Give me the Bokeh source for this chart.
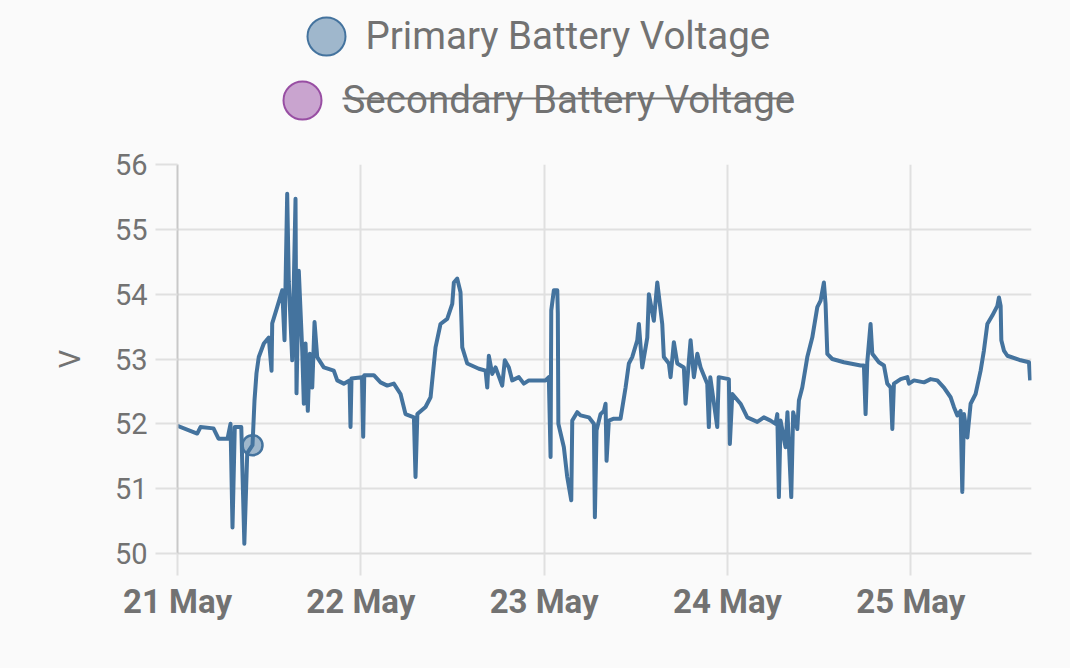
import pandas as pd
from bokeh.plotting import figure
from bokeh.layouts import column
from bokeh.models import Range1d, DaysTicker, DatetimeTickFormatter, FixedTicker, ColumnDataSource
from bokeh.core.properties import value
from bokeh.embed import file_html
from bokeh.resources import INLINE

# ---------------- data ----------------
start_date = "2024-05-21"
series_names = ["Primary Battery Voltage", "Secondary Battery Voltage"]
series_colors = ["#44739e", "#984ea3"]
series_hidden = [False, True]
y_ticks = [50, 51, 52, 53, 54, 55, 56]

# hours after 21 May 00:00
hours = [0.0, 2.58, 3.01, 4.71, 5.37, 6.55, 6.94, 7.2, 7.5, 8.35, 8.75, 9.13, 9.82, 10.08,
         10.34, 10.64, 11.30, 11.95, 12.31, 12.40, 13.05, 13.71, 14.01, 14.36, 14.57, 15.02,
         15.45, 15.58, 15.88, 16.33, 16.54, 16.76, 17.06, 17.32, 17.64, 17.94, 18.29, 19.15,
         20.46, 20.91, 21.77, 22.52, 22.65, 22.78, 24.15, 24.31, 24.45, 25.70, 26.58, 27.46,
         28.32, 29.20, 29.85, 30.95, 31.16, 31.4, 32.47, 33.13, 33.78, 34.43, 35.31, 35.97,
         36.18, 36.62, 37.05, 37.28, 37.93, 39.45, 40.33, 40.55, 40.76, 41.20, 41.64, 42.51,
         42.85, 43.38, 43.82, 44.69, 45.34, 46.00, 48.18, 48.61, 48.84, 48.93, 49.27, 49.72,
         49.79, 49.86, 50.58, 51.02, 51.55, 51.68, 52.33, 52.76, 53.85, 54.51, 54.64, 54.86,
         55.38, 55.82, 56.04, 56.17, 56.47, 57.12, 58.00, 58.66, 59.09, 59.53, 60.19, 60.40,
         60.84, 61.50, 61.71, 62.36, 62.81, 63.46, 63.67, 64.33, 64.55, 64.98, 65.43, 66.29,
         66.51, 66.95, 67.17, 67.60, 68.05, 68.48, 69.35, 69.56, 69.75, 70.66, 70.85, 72.18,
         72.31, 72.63, 73.71, 74.59, 75.90, 76.76, 77.64, 78.29, 78.52, 78.73, 78.95, 79.60,
         79.85, 80.35, 80.6, 81.14, 81.35, 81.79, 82.45, 83.10, 83.76, 84.19, 84.62, 84.84,
         85.07, 85.72, 87.24, 89.43, 89.86, 90.08, 90.30, 90.73, 90.96, 91.82, 92.48, 92.92,
         93.36, 93.58, 93.79, 94.67, 95.55, 95.76, 96.42, 97.73, 98.59, 99.47, 100.34, 101.21,
         101.64, 102.09, 102.52, 102.74, 102.96, 103.40, 103.83, 104.48, 105.14, 105.57,
         106.02, 106.67, 107.33, 107.54, 107.76, 107.85, 108.19, 108.64, 110.38, 111.47, 111.62]

primary_volts = [51.97, 51.85, 51.95, 51.93, 51.77, 51.77, 52.00, 50.40, 51.95, 51.95, 50.15,
                 51.55, 51.67, 52.36, 52.78, 53.03, 53.24, 53.33, 52.82, 53.55, 53.80, 54.06,
                 53.29, 55.55, 54.20, 52.98, 55.47, 52.47, 54.36, 53.13, 52.31, 53.24, 52.20,
                 53.08, 52.56, 53.57, 53.03, 52.87, 52.82, 52.67, 52.62, 52.67, 51.95, 52.70,
                 52.72, 51.80, 52.75, 52.75, 52.64, 52.59, 52.62, 52.46, 52.15, 52.10, 51.18,
                 52.15, 52.26, 52.41, 53.18, 53.54, 53.62, 53.85, 54.18, 54.24, 54.03, 53.18,
                 52.93, 52.85, 52.82, 52.56, 53.05, 52.77, 52.87, 52.59, 52.98, 52.87, 52.67,
                 52.72, 52.62, 52.67, 52.67, 52.72, 51.49, 53.75, 54.06, 54.06, 53.70, 52.00,
                 51.64, 51.18, 50.82, 52.05, 52.18, 52.13, 52.10, 52.00, 50.56, 51.90, 52.15,
                 52.20, 52.31, 51.43, 52.05, 52.08, 52.08, 52.56, 52.93, 53.03, 53.29, 53.54,
                 52.87, 53.33, 54.00, 53.59, 54.18, 53.54, 53.03, 52.93, 52.72, 53.26, 52.93,
                 52.87, 52.31, 52.98, 53.29, 52.72, 53.08, 52.87, 52.62, 51.95, 52.72, 51.95,
                 52.72, 52.69, 51.69, 52.46, 52.31, 52.10, 52.03, 52.10, 52.05, 52.00, 52.15,
                 50.87, 52.05, 51.64, 52.18, 50.87, 52.18, 51.92, 52.36, 52.56, 53.03, 53.33,
                 53.80, 53.90, 54.18, 53.85, 53.08, 53.00, 52.95, 52.90, 52.90, 52.15, 52.95,
                 53.54, 53.08, 52.95, 52.90, 52.62, 52.56, 51.92, 52.62, 52.69, 52.72, 52.62,
                 52.67, 52.64, 52.69, 52.67, 52.56, 52.41, 52.26, 52.13, 52.20, 50.95, 52.15,
                 51.79, 52.31, 52.46, 52.82, 53.13, 53.54, 53.67, 53.82, 53.95, 53.82, 53.29,
                 53.13, 53.05, 52.98, 52.95, 52.67]

highlight_hours = [9.82]
highlight_volts = [51.67]
range_end_hours = 111.8

# ---------------- styling ----------------
BG = "#fafafa"
TXT = "#727272"
GRID = "#e0e0e0"
FONT = "Roboto"
W = 1070
ML, MR = 177, W - 1031
LH = 128

base = pd.Timestamp(start_date)
times = [base + pd.Timedelta(hours=h) for h in hours]
hl_times = [base + pd.Timedelta(hours=h) for h in highlight_hours]

# ---------- legend strip (x/y in page pixels) ----------
leg = figure(width=W, height=LH, x_range=Range1d(ML, 1031), y_range=Range1d(LH, 0),
             x_axis_location=None, y_axis_location=None,
             output_backend="svg", toolbar_location=None,
             min_border_left=ML, min_border_right=MR, min_border_top=0, min_border_bottom=0)
leg.grid.visible = False
leg.outline_line_color = None
leg.background_fill_color = BG
leg.border_fill_color = BG

leg_src = ColumnDataSource(dict(
    cx=[326, 302], cy=[36, 100], color=series_colors,
    tx=[365, 342], ty=[35, 99], label=series_names))
leg.scatter("cx", "cy", source=leg_src, size=38, fill_color="color", fill_alpha=0.5,
            line_color="color", line_width=2)
leg.text("tx", "ty", text="label", source=leg_src, text_font=value(FONT),
         text_font_size="38.5px", text_color=TXT, text_baseline="alphabetic")
# strike-through for the hidden (toggled-off) series
leg.segment(x0=[342], y0=[98], x1=[792], y1=[98], line_color=TXT, line_width=2)

# ---------- main chart ----------
MH = 540
p = figure(width=W, height=MH, x_axis_type="datetime",
           x_range=Range1d(base, base + pd.Timedelta(hours=range_end_hours)),
           y_range=Range1d(y_ticks[0], y_ticks[-1]),
           output_backend="svg", toolbar_location=None,
           min_border_left=ML, min_border_right=MR, min_border_top=164 - LH,
           min_border_bottom=MH - (164 - LH) - 389)
p.background_fill_color = BG
p.border_fill_color = BG
p.outline_line_color = None

p.line(times, primary_volts, line_color=series_colors[0], line_width=4, line_join="round")
p.scatter(hl_times, highlight_volts, size=20, fill_color=series_colors[0], fill_alpha=0.5,
          line_color=series_colors[0], line_width=2.5)

p.xaxis.ticker = DaysTicker(days=list(range(1, 32)))
p.xaxis.formatter = DatetimeTickFormatter(days="%d %b", months="%d %b")
p.yaxis.ticker = FixedTicker(ticks=y_ticks)
p.yaxis.axis_label = "V"

for ax in (p.xaxis[0], p.yaxis[0]):
    ax.major_tick_out = 22
    ax.major_tick_in = 0
    ax.major_tick_line_color = GRID
    ax.major_tick_line_width = 2
    ax.minor_tick_line_color = None
    ax.major_label_text_font = FONT
    ax.major_label_text_color = TXT
    ax.axis_label_text_font = FONT
    ax.axis_label_text_font_size = "29px"
    ax.axis_label_text_color = TXT
    ax.axis_label_text_font_style = "normal"

p.yaxis.major_label_text_font_size = "29px"
p.yaxis.major_label_standoff = 8
p.xaxis.major_label_text_font_size = "33px"
p.xaxis.major_label_text_font_style = "bold"
p.xaxis.major_label_standoff = 6
p.xaxis.axis_line_color = "#dcdcdc"
p.xaxis.axis_line_width = 2
p.yaxis.axis_line_color = "#c8c8c8"
p.yaxis.axis_line_width = 2
p.yaxis.axis_label_standoff = 25

p.grid.grid_line_color = GRID
p.grid.grid_line_width = 2

layout = column(leg, p, spacing=0)
layout.styles = {"background-color": BG}

open("out.html", "w").write(file_html(layout, INLINE, title="Battery Voltage"))
